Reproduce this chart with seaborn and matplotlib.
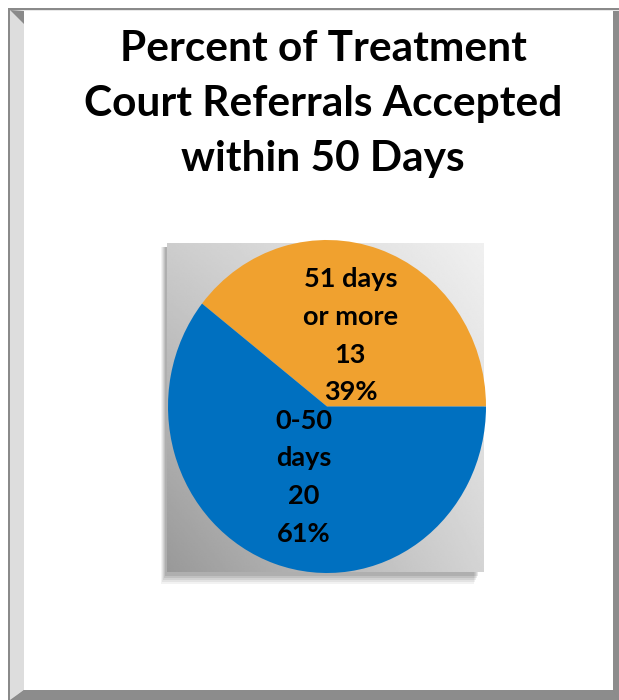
import numpy as np
import matplotlib
matplotlib.use("Agg")
import matplotlib.pyplot as plt
import seaborn as sns
from matplotlib.patches import Polygon, Rectangle

# ---- data ----
categories = ["51 days\nor more", "0-50\ndays"]
counts = [13, 20]
colors = ["#F0A12F", "#0070C0"]
title_text = "Percent of Treatment\nCourt Referrals Accepted\nwithin 50 Days"

sns.set_theme(style="white")
plt.rcParams["font.family"] = ["Lato", "DejaVu Sans"]

W, H = 619, 700
fig = plt.figure(figsize=(W / 100, H / 100), dpi=100)
fig.patch.set_facecolor("white")

# ---- frame (pixel coordinates, origin top-left) ----
bg = fig.add_axes([0, 0, 1, 1])
bg.set_xlim(0, W)
bg.set_ylim(H, 0)
bg.axis("off")
bg.add_patch(Rectangle((8, 8), W - 8, H - 8, facecolor="#8a8a8a", edgecolor="none"))
# left light bevel
bg.add_patch(Polygon([(10, 10), (24, 24), (24, 690), (10, 700)], closed=True,
                     facecolor="#dddddd", edgecolor="none"))
# top light bevel
bg.add_patch(Polygon([(10, 10), (W, 10), (W, 11), (24, 11)], closed=True,
                     facecolor="#e8e8e8", edgecolor="none"))
# right dark bevel
bg.add_patch(Polygon([(613, 22), (W, 11), (W, H), (613, 690)], closed=True,
                     facecolor="#8c8c8c", edgecolor="none"))
# bottom dark bevel
bg.add_patch(Polygon([(24, 690), (613, 690), (W, H), (12, H)], closed=True,
                     facecolor="#8c8c8c", edgecolor="none"))
# white face
bg.add_patch(Rectangle((24, 11), 613 - 24, 690 - 11, facecolor="white", edgecolor="none"))

# shadow behind gradient square
sq_l, sq_r, sq_t, sq_b = 167, 484, 243, 572
for i, a in enumerate([0.05, 0.06, 0.07, 0.08, 0.09]):
    off = 6 - i
    bg.add_patch(Rectangle((sq_l - off, sq_t + 4), (sq_r - sq_l) - 4, (sq_b - sq_t) + off - 4 + off,
                           facecolor="black", alpha=a, edgecolor="none"))

# title
bg.text(323, 104, title_text, ha="center", va="center", fontsize=30.5,
        fontweight="bold", color="black", linespacing=1.54)

# ---- gradient square ----
gax = fig.add_axes([sq_l / W, 1 - sq_b / H, (sq_r - sq_l) / W, (sq_b - sq_t) / H])
u = np.linspace(0, 1, 200)[None, :]
v = np.linspace(1, 0, 200)[:, None]
BL, BR, TL, TR = 153, 212, 205, 240
g = BL * (1 - u) * (1 - v) + BR * u * (1 - v) + TL * (1 - u) * v + TR * u * v
gax.imshow(g / 255.0, cmap="gray", vmin=0, vmax=1, aspect="auto", interpolation="bilinear")
gax.axis("off")

# ---- pie ----
pl, pr, pt, pb = 168, 486, 240, 573
pax = fig.add_axes([pl / W, 1 - pb / H, (pr - pl) / W, (pb - pt) / H])
pax.patch.set_alpha(0)
total = sum(counts)
_it = iter(zip(categories, counts))


def fmt(pct):
    name, n = next(_it)
    return f"{name}\n{n}\n{pct:.0f}%"


wedges, texts, autotexts = pax.pie(counts, colors=colors, startangle=0, counterclock=True,
                                   autopct=fmt, pctdistance=0.45,
                                   wedgeprops=dict(linewidth=0, edgecolor="none"))
for t in autotexts:
    t.set_fontsize(19.5)
    t.set_fontweight("bold")
    t.set_color("black")
    t.set_linespacing(1.69)
pax.set_aspect("auto")
pax.set_xlim(-1, 1)
pax.set_ylim(-1, 1)
pax.axis("off")

fig.savefig("out.png", dpi=100)
